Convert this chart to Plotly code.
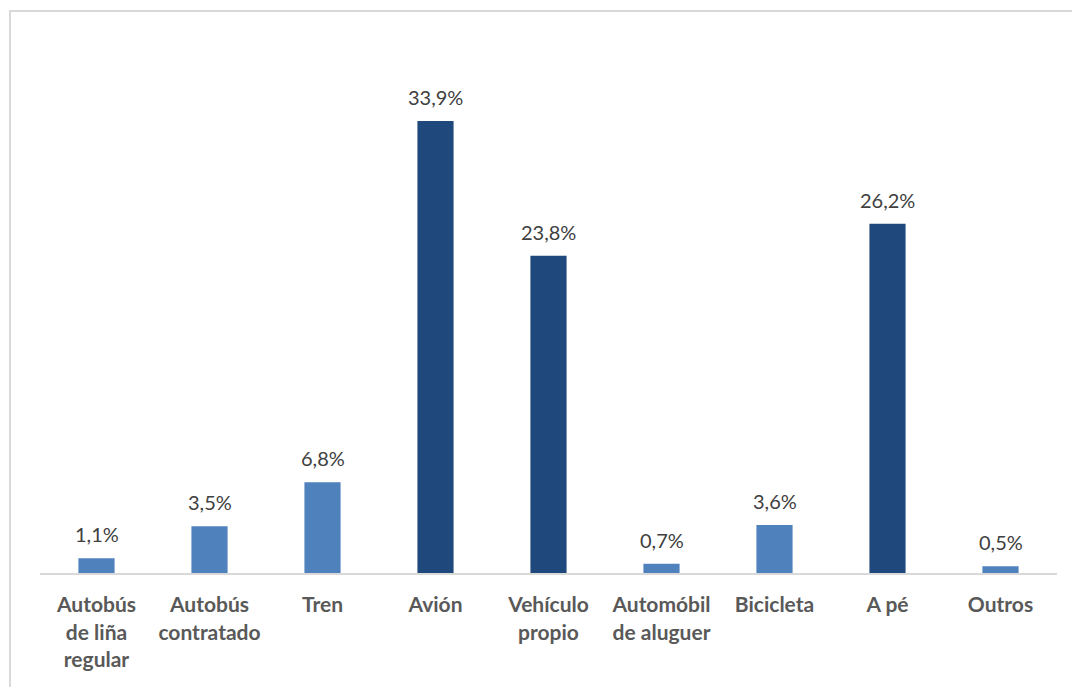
import plotly.graph_objects as go

categories = ["Autobús<br>de liña<br>regular", "Autobús<br>contratado", "Tren", "Avión",
              "Vehículo<br>propio", "Automóbil<br>de aluguer", "Bicicleta", "A pé", "Outros"]
values = [1.1, 3.5, 6.8, 33.9, 23.8, 0.7, 3.6, 26.2, 0.5]
highlight = [False, False, False, True, True, False, False, True, False]

LIGHT = "#4F81BD"
DARK = "#1F497D"
colors = [DARK if h else LIGHT for h in highlight]

fig = go.Figure(go.Bar(
    x=categories, y=values,
    marker=dict(color=colors, line=dict(width=0)),
    width=0.32,
    cliponaxis=False,
))

for c, v in zip(categories, values):
    fig.add_annotation(
        x=c, y=v, xref="x", yref="y",
        text=f"{v:.1f}%".replace(".", ","),
        showarrow=False, yanchor="bottom", yshift=10,
        font=dict(family="Lato", size=20, color="#404040"),
    )

fig.update_layout(
    width=1072, height=687,
    margin=dict(l=40, r=15, t=93, b=114),
    paper_bgcolor="white", plot_bgcolor="white",
    showlegend=False,
    xaxis=dict(
        type="category", range=[-0.5, 8.5],
        showline=True, linecolor="#D9D9D9", linewidth=2,
        showgrid=False, ticks="", ticklabelstandoff=12,
        tickfont=dict(family="Lato", size=21, color="#595959", weight="bold"),
    ),
    yaxis=dict(range=[0, 36], visible=False),
    shapes=[dict(type="rect", xref="paper", yref="paper",
                 x0=-0.0295, x1=1.2, y0=-0.5, y1=1.1708,
                 line=dict(color="#D9D9D9", width=2), fillcolor="rgba(0,0,0,0)", layer="below")],
)

fig.write_html("out.html")
